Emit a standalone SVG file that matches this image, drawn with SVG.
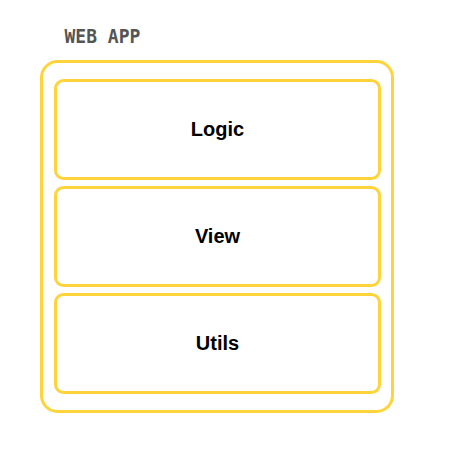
<svg xmlns="http://www.w3.org/2000/svg" width="454" height="459" viewBox="0 0 454 459">
<style>
.box{fill:none;stroke:#FFD43B;stroke-width:3}
.lbl{font-family:"Liberation Sans",Arial,sans-serif;font-weight:bold;font-size:20px;fill:#000;text-anchor:middle}
.title{font-family:"DejaVu Sans Mono","Liberation Mono",monospace;font-weight:bold;font-size:18px;fill:#555}
</style>
<rect width="454" height="459" fill="#fff"/>
<g id="webapp">
<rect class="box" x="41.5" y="61.5" width="351" height="350" rx="16"/>
<text class="title" transform="translate(64.5,43) scale(1,1.12)" x="0" y="0">WEB APP</text>
</g>
<g id="logic">
<rect class="box" x="55.5" y="80.5" width="324" height="98" rx="8"/>
<text class="lbl" x="217.5" y="135.5">Logic</text>
</g>
<g id="view">
<rect class="box" x="55.5" y="187.5" width="324" height="98" rx="8"/>
<text class="lbl" x="217.5" y="243">View</text>
</g>
<g id="utils">
<rect class="box" x="55.5" y="294.5" width="324" height="98" rx="8"/>
<text class="lbl" x="217.5" y="350">Utils</text>
</g>
<g id="connectors"></g>
</svg>
